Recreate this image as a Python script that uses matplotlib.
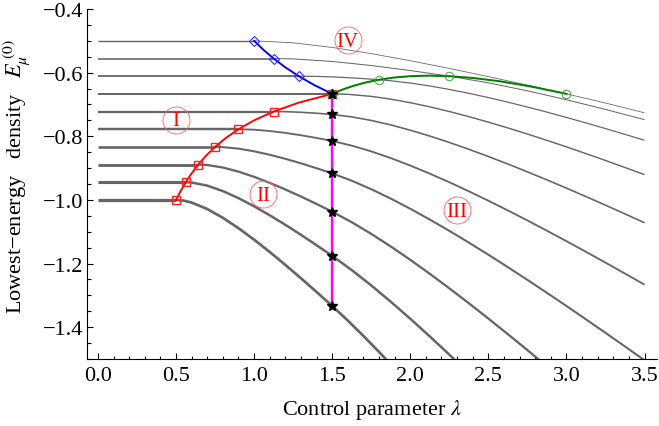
import matplotlib
matplotlib.use('Agg')
import matplotlib.pyplot as plt
from matplotlib.ticker import MultipleLocator

plt.rcParams['font.family'] = ['Liberation Serif', 'DejaVu Serif']
plt.rcParams['mathtext.fontset'] = 'stix'

# ---------------- data ----------------
mu_values = [1.0, 0.9444, 0.8889, 0.8333, 0.7778, 0.7222, 0.6667, 0.6111, 0.5556, 0.5]
flat_level = [-1.0, -0.9444, -0.8889, -0.8333, -0.7778, -0.7222, -0.6667, -0.6111, -0.5556, -0.5]
onset = [0.5, 0.5625, 0.6429, 0.75, 0.9, 1.125, 1.5, 1.2857, 1.125, 1.0]

lam_c0 = [0.5, 0.55, 0.6, 0.7, 0.8, 0.9, 1.0, 1.1, 1.2, 1.3, 1.4, 1.5, 1.6, 1.7, 1.8, 1.9]
E_c0 = [-1.0, -1.0023, -1.0083, -1.0286, -1.0563, -1.0889, -1.125, -1.1636, -1.2042, -1.2462,
        -1.2893, -1.3333, -1.3792, -1.4275, -1.4778, -1.5298]

lam_c1 = [0.5625, 0.6, 0.7, 0.8, 0.9, 1.0, 1.1, 1.2, 1.3, 1.4, 1.5, 1.625, 1.75, 1.875,
          2.0, 2.125, 2.25, 2.375]
E_c1 = [-0.9444, -0.9454, -0.9551, -0.9723, -0.9944, -1.0201, -1.0482, -1.0782, -1.1097,
        -1.1424, -1.1759, -1.2205, -1.2687, -1.3199, -1.3735, -1.4290, -1.4861, -1.5446]

lam_c2 = [0.6429, 0.7, 0.8, 0.9, 1.0, 1.1, 1.2, 1.3, 1.4, 1.5, 1.625, 1.75, 1.875, 2.0,
          2.125, 2.25, 2.375, 2.5, 2.625, 2.75, 2.875]
E_c2 = [-0.8889, -0.8903, -0.8982, -0.9111, -0.9275, -0.9464, -0.9671, -0.9894, -1.0128,
        -1.0370, -1.0700, -1.1067, -1.1463, -1.1883, -1.2322, -1.2778, -1.3247, -1.3729,
        -1.4220, -1.4720, -1.5227]

lam_c3 = [0.75, 0.8, 0.9, 1.0, 1.1, 1.2, 1.3, 1.4, 1.5, 1.625, 1.75, 1.875, 2.0, 2.125,
          2.25, 2.375, 2.5, 2.625, 2.75, 2.875, 3.0, 3.125, 3.25, 3.375, 3.5]
E_c3 = [-0.8333, -0.8340, -0.8389, -0.8472, -0.8581, -0.8708, -0.8850, -0.9004, -0.9167,
        -0.9396, -0.9663, -0.9958, -1.0278, -1.0617, -1.0972, -1.1341, -1.1722, -1.2113,
        -1.2513, -1.2920, -1.3333, -1.3753, -1.4177, -1.4607, -1.5040]

lam_c4 = [0.9, 1.0, 1.1, 1.2, 1.3, 1.4, 1.5, 1.625, 1.75, 1.875, 2.0, 2.125, 2.25, 2.375,
          2.5, 2.625, 2.75, 2.875, 3.0, 3.125, 3.25, 3.375, 3.5]
E_c4 = [-0.7778, -0.7793, -0.7834, -0.7894, -0.7968, -0.8053, -0.8148, -0.8293, -0.8474,
        -0.8685, -0.8920, -0.9174, -0.9444, -0.9729, -1.0025, -1.0331, -1.0645, -1.0968,
        -1.1296, -1.1631, -1.1971, -1.2315, -1.2663]

lam_c5 = [1.125, 1.2, 1.3, 1.4, 1.5, 1.625, 1.75, 1.875, 2.0, 2.125, 2.25, 2.375, 2.5,
          2.625, 2.75, 2.875, 3.0, 3.125, 3.25, 3.375, 3.5]
E_c5 = [-0.7222, -0.7227, -0.7246, -0.7276, -0.7315, -0.7390, -0.7502, -0.7643, -0.7809,
        -0.7993, -0.8194, -0.8409, -0.8636, -0.8872, -0.9118, -0.9370, -0.9630, -0.9895,
        -1.0165, -1.0440, -1.0719]

lam_c6 = [1.5, 1.6, 1.75, 1.875, 2.0, 2.125, 2.25, 2.375, 2.5, 2.625, 2.75, 2.875, 3.0,
          3.125, 3.25, 3.375, 3.5]
E_c6 = [-0.6667, -0.6681, -0.6746, -0.6833, -0.6944, -0.7075, -0.7222, -0.7383, -0.7556,
        -0.7738, -0.7929, -0.8128, -0.8333, -0.8544, -0.8761, -0.8982, -0.9206]

lam_c7 = [1.2857, 1.4, 1.5, 1.6, 1.7, 1.8, 1.875, 2.0, 2.125, 2.25, 2.375, 2.5, 2.625,
          2.75, 2.875, 3.0, 3.125, 3.25, 3.375, 3.5]
E_c7 = [-0.6111, -0.6118, -0.6134, -0.6158, -0.6188, -0.6222, -0.6255, -0.6327, -0.6419,
        -0.6528, -0.6650, -0.6784, -0.6928, -0.7081, -0.7241, -0.7408, -0.7580, -0.7758,
        -0.7940, -0.8126]

lam_c8 = [1.125, 1.25, 1.5, 1.75, 2.0, 2.25, 2.5, 2.75, 3.0, 3.25, 3.5]
E_c8 = [-0.5556, -0.5568, -0.5648, -0.5776, -0.5934, -0.6111, -0.6321, -0.6571, -0.6852,
        -0.7156, -0.7478]

lam_c9 = [1.0, 1.25, 1.5, 1.75, 2.0, 2.25, 2.5, 2.75, 3.0, 3.25, 3.5]
E_c9 = [-0.5, -0.5063, -0.5208, -0.5402, -0.5625, -0.5868, -0.6125, -0.6392, -0.6667,
        -0.6955, -0.7262]

# boundary I / II (red)
lam_red = [0.5, 0.5294, 0.5625, 0.6, 0.6429, 0.6923, 0.75, 0.8182, 0.9, 1.0, 1.125, 1.2857, 1.5]
E_red = [-1.0, -0.9722, -0.9444, -0.9167, -0.8889, -0.8611, -0.8333, -0.8056, -0.7778,
         -0.75, -0.7222, -0.6944, -0.6667]
lam_red_pts = [0.5, 0.5625, 0.6429, 0.75, 0.9, 1.125, 1.5]
E_red_pts = [-1.0, -0.9444, -0.8889, -0.8333, -0.7778, -0.7222, -0.6667]

# boundary I / IV (blue)
lam_blue = [1.0, 1.0588, 1.125, 1.2, 1.2857, 1.3846, 1.5]
E_blue = [-0.5, -0.5278, -0.5556, -0.5833, -0.6111, -0.6389, -0.6667]
lam_blue_pts = [1.0, 1.125, 1.2857, 1.5]
E_blue_pts = [-0.5, -0.5556, -0.6111, -0.6667]

# boundary III / IV (green)
lam_green = [1.5, 1.5652, 1.6364, 1.7143, 1.8, 1.8947, 2.0, 2.1176, 2.25, 2.4, 2.5714, 2.7692, 3.0]
E_green = [-0.6667, -0.6534, -0.6414, -0.6310, -0.6222, -0.6155, -0.6111, -0.6095, -0.6111,
           -0.6167, -0.6270, -0.6432, -0.6667]
lam_green_pts = [1.5, 1.8, 2.25, 3.0]
E_green_pts = [-0.6667, -0.6222, -0.6111, -0.6667]

# boundary II / III (magenta) with stars
lam_star = 1.5
E_star = [-0.6667, -0.7315, -0.8148, -0.9167, -1.0370, -1.1759, -1.3333]

region_labels = ['I', 'II', 'III', 'IV']

curves_lam = [lam_c0, lam_c1, lam_c2, lam_c3, lam_c4, lam_c5, lam_c6, lam_c7, lam_c8, lam_c9]
curves_E = [E_c0, E_c1, E_c2, E_c3, E_c4, E_c5, E_c6, E_c7, E_c8, E_c9]

# ---------------- figure ----------------
W, H = 659, 427
fig = plt.figure(figsize=(W / 100, H / 100), dpi=100)
ax = fig.add_axes([87 / W, 1 - 360 / H, 570 / W, 350 / H])
ax.set_xlim(-0.07, 3.58)
ax.set_ylim(-1.5, -0.4)

px = 0.72  # points per pixel
gray = '#666666'
for mu, lvl, x0, lx, ey in zip(mu_values, flat_level, onset, curves_lam, curves_E):
    lw_flat = (1.4 + (mu - 0.5) * 3.8) * px
    lw_curve = (0.8 + (mu - 0.5) * 3.8) * px
    ax.plot([0.0, x0], [lvl, lvl], color=gray, lw=lw_flat, solid_capstyle='butt', zorder=2)
    ax.plot(lx, ey, color=gray, lw=lw_curve, solid_capstyle='butt',
            solid_joinstyle='round', zorder=2)

ax.plot(lam_red, E_red, color='#ff0000', lw=1.9 * px, zorder=3)
ax.plot(lam_blue, E_blue, color='#0000ff', lw=1.9 * px, zorder=3)
ax.plot(lam_green, E_green, color='#007f00', lw=2.0 * px, zorder=3)
ax.plot([lam_star] * 2, [E_star[0], E_star[-1]], color='#ff00ff', lw=2.4 * px, zorder=3)

ax.plot(lam_red_pts, E_red_pts, ls='none', marker='s', ms=8 * px, mfc='none',
        mec='#ff2020', mew=1.0, zorder=4)
ax.plot(lam_blue_pts, E_blue_pts, ls='none', marker='D', ms=6.5 * px, mfc='none',
        mec='#3030ff', mew=0.8, zorder=4)
ax.plot(lam_green_pts, E_green_pts, ls='none', marker='o', ms=8.5 * px, mfc='none',
        mec='#40a040', mew=0.7, zorder=4)
ax.plot([lam_star] * len(E_star), E_star, ls='none', marker='*', ms=11 * px,
        color='black', zorder=5)

label_pos = [(0.50, -0.748), (1.056, -0.982), (2.30, -1.031), (1.60, -0.497)]
for lab, (lx, ly) in zip(region_labels, label_pos):
    ax.plot([lx], [ly], marker='o', ms=27 * px, mfc='none', mec='#ff6060', mew=0.6, zorder=4)
    ax.text(lx, ly - 0.004, lab, color='#ff0000', fontsize=15, ha='center', va='center', zorder=5)

# axes styling
for s in ['top', 'right']:
    ax.spines[s].set_visible(False)
for s in ['left', 'bottom']:
    ax.spines[s].set_linewidth(0.8)
ax.xaxis.set_major_locator(MultipleLocator(0.5))
ax.xaxis.set_minor_locator(MultipleLocator(0.1))
ax.yaxis.set_major_locator(MultipleLocator(0.2))
ax.yaxis.set_minor_locator(MultipleLocator(0.05))
ax.tick_params(axis='both', which='both', direction='in', width=0.8, labelsize=16)
ax.tick_params(axis='both', which='major', length=6 * px)
ax.tick_params(axis='both', which='minor', length=3.5 * px)
ax.tick_params(axis='x', which='major', pad=5)
ax.tick_params(axis='y', which='major', pad=3)

ax.set_xlabel('Control parameter $\\lambda$', fontsize=16)
ax.set_ylabel('Lowest\u2212energy   density   $E_{\\mu}^{\\;(0)}$', fontsize=16)
ax.xaxis.set_label_coords(0.5, -0.11)
ax.yaxis.set_label_coords(-0.097, 0.525)

fig.savefig('out.png', dpi=100)
